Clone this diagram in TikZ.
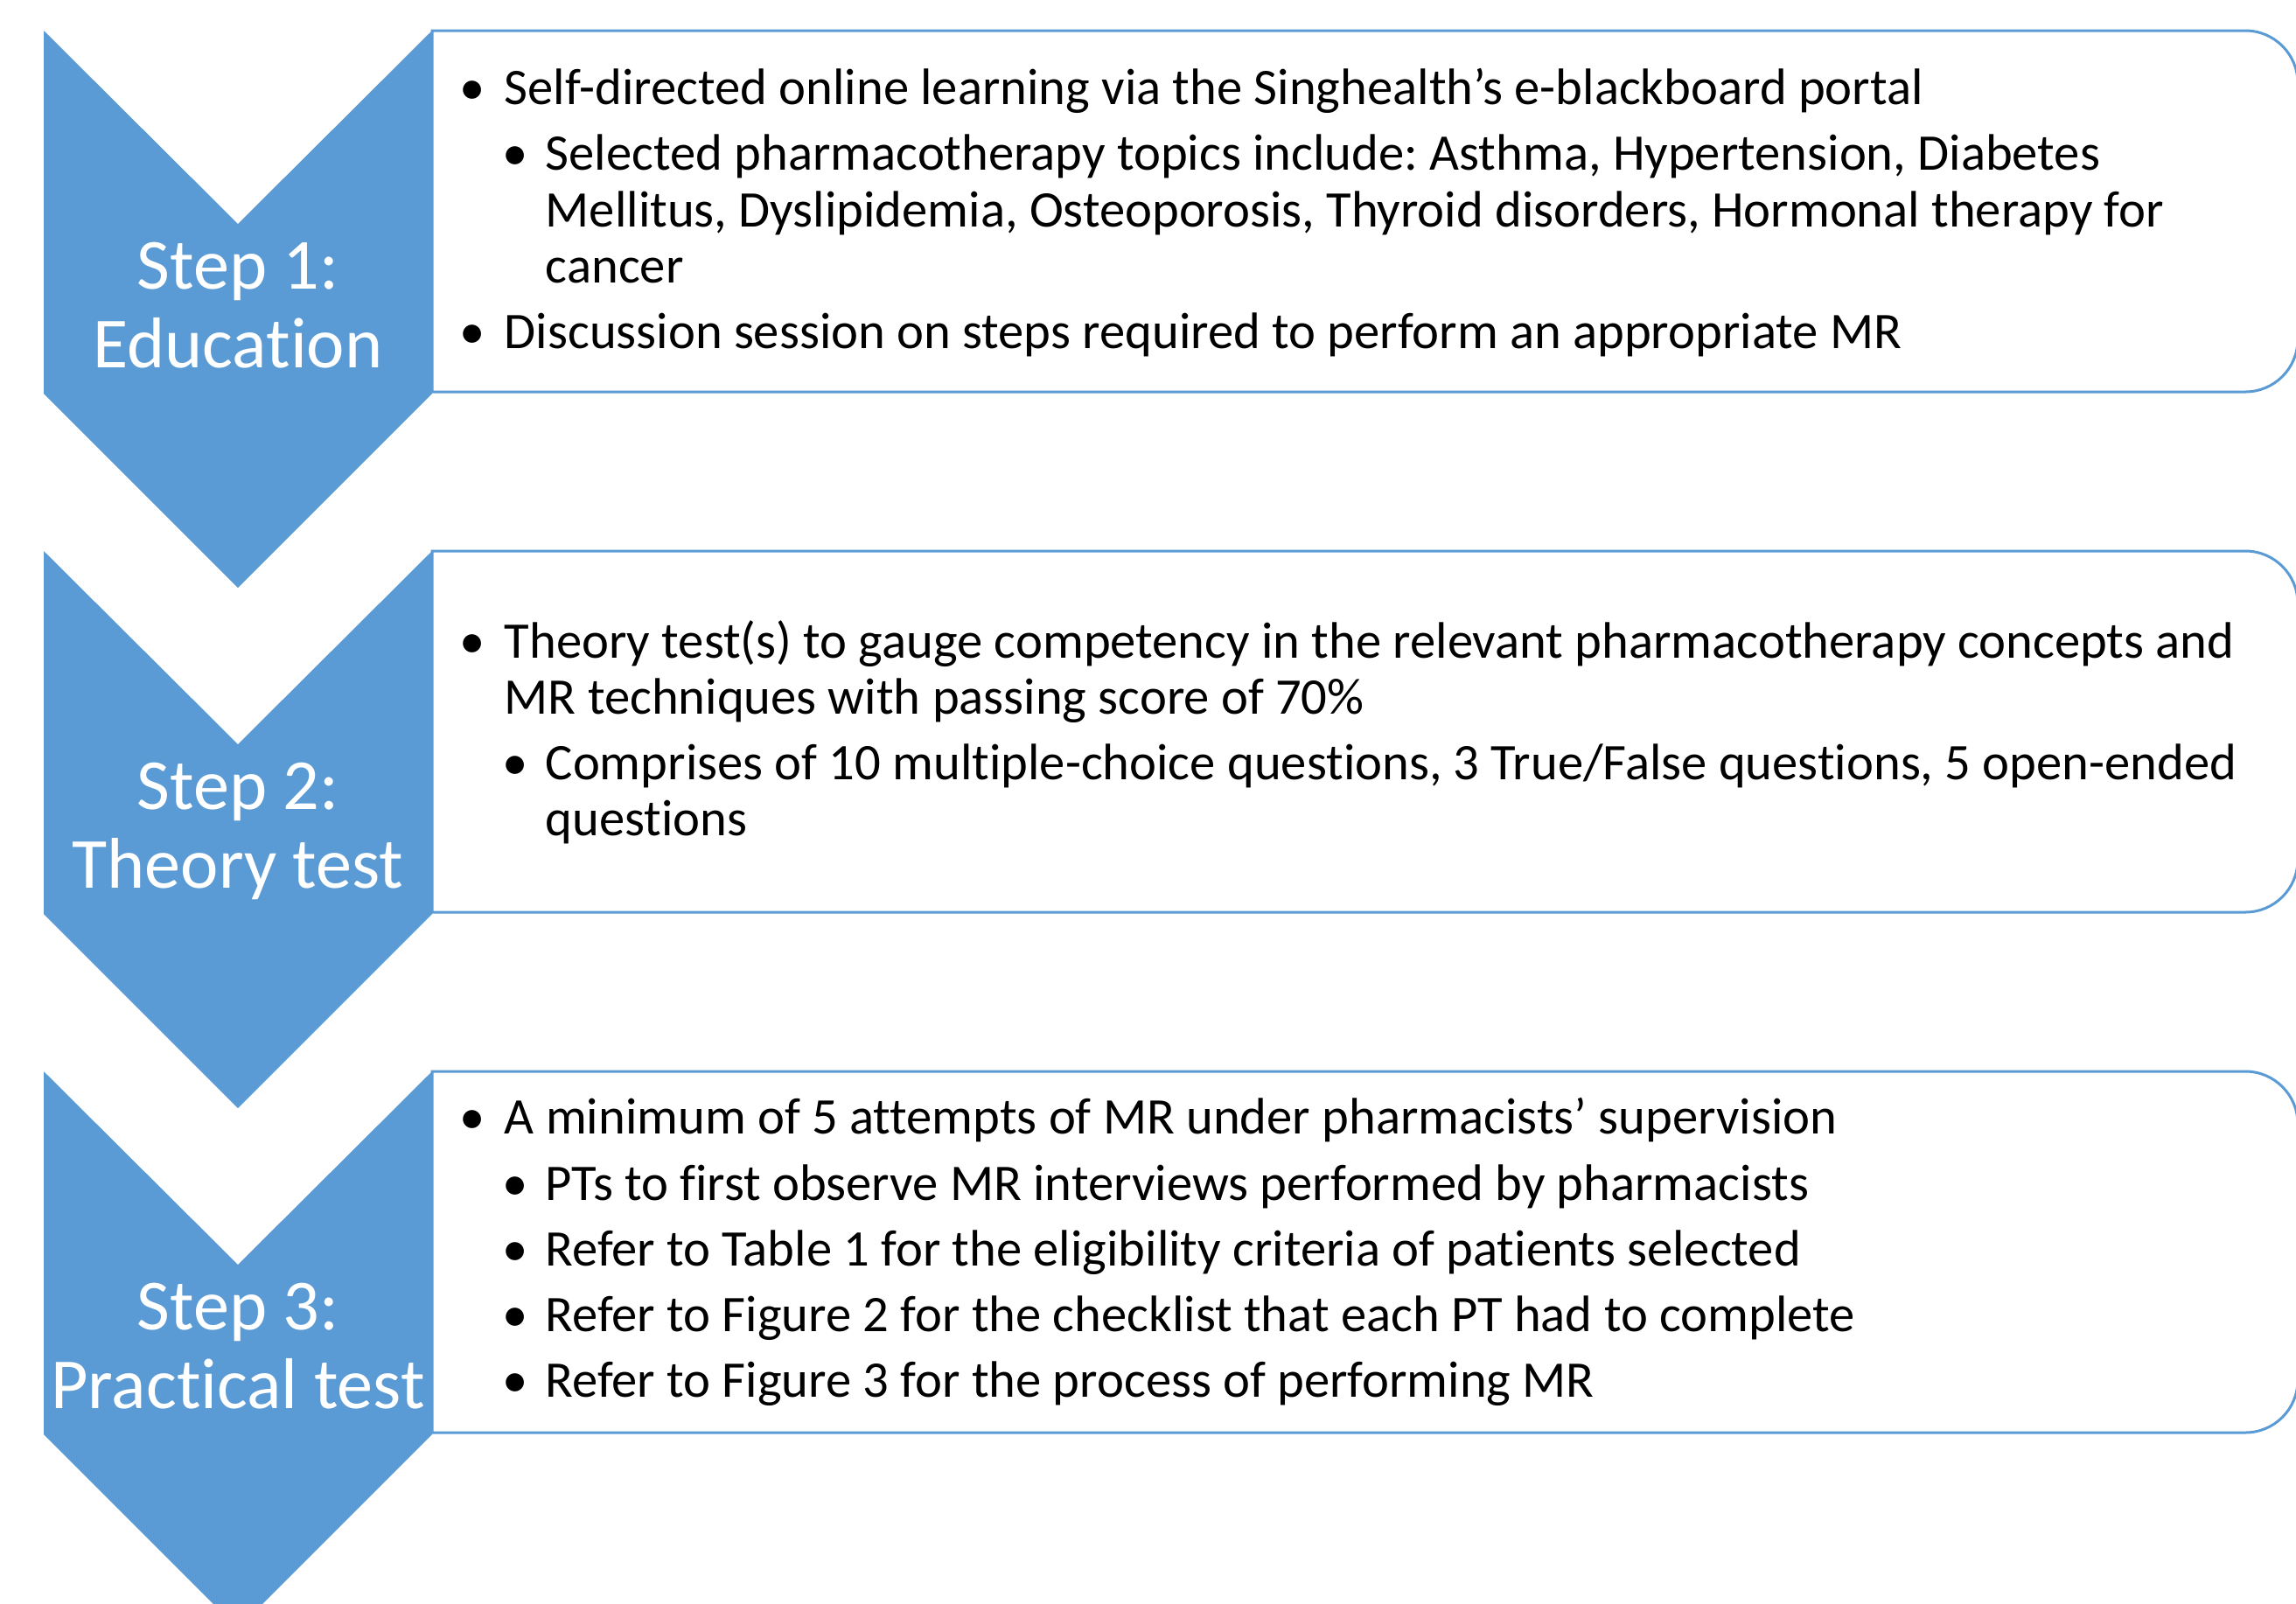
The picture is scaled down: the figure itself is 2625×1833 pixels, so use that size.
\documentclass[tikz,border=0pt]{standalone}
\usepackage{fontspec}
\setmainfont{Carlito}[Ligatures={NoCommon}]
\frenchspacing
\definecolor{acc}{HTML}{5B9BD5}
\begin{document}
\begin{tikzpicture}[x=0.25pt,y=-0.25pt,
  chev/.style={fill=acc,draw=none},
  stepbox/.style={draw=acc,line width=0.75pt,fill=white},
  lbl/.style={text=white,font=\fontsize{20.55}{24}\selectfont,inner sep=0,anchor=base},
  body/.style={font=\fontsize{14.66}{17}\selectfont\frenchspacing,inner sep=0,anchor=base west},
  bul/.style={font=\fontsize{14.66}{17}\selectfont,inner sep=0,anchor=base}]
\useasboundingbox (0,0) rectangle (2625,1833);
% boxes and chevrons
\foreach \T in {35,630,1225}{
  \draw[stepbox] (494,\T) -- (2567,\T) arc[start angle=90,end angle=0,radius=15pt]
     -- (2627,\T+353) arc[start angle=0,end angle=-90,radius=15pt] -- (494,\T+413) -- cycle;
  \fill[chev] (50,\T) -- (272,\T+221) -- (494,\T) -- (494,\T+415) -- (272,\T+637) -- (50,\T+415) -- cycle;
}
% step labels
\node[lbl] (s1a) at (272,330) {Step 1:};
\node[lbl] (s1b) at (272,420) {Education};
\node[lbl] (s2a) at (272,925) {Step 2:};
\node[lbl] (s2b) at (272,1015) {Theory test};
\node[lbl] (s3a) at (272,1520) {Step 3:};
\node[lbl] (s3b) at (272,1610) {Practical test};
% box 1
\node[bul] (b1) at (540,119) {\textbullet};
\node[body] (t1) at (576,119) {Self-directed online learning via the Singhealth’s e-blackboard portal};
\node[bul] (b2) at (589,194) {\textbullet};
\node[body] (t2a) at (623,194) {Selected pharmacotherapy topics include: Asthma, Hypertension, Diabetes};
\node[body] (t2b) at (623,259) {Mellitus, Dyslipidemia, Osteoporosis, Thyroid disorders, Hormonal therapy for};
\node[body] (t2c) at (623,323) {cancer};
\node[bul] (b3) at (540,398) {\textbullet};
\node[body] (t3) at (576,398) {Discussion session on steps required to perform an appropriate MR};
% box 2
\node[bul] (b4) at (540,752) {\textbullet};
\node[body] (t4a) at (576,752) {Theory test(s) to gauge competency in the relevant pharmacotherapy concepts and};
\node[body] (t4b) at (576,816) {MR techniques with passing score of 70\%};
\node[bul] (b5) at (589,891) {\textbullet};
\node[body] (t5a) at (623,891) {Comprises of 10 multiple-choice questions, 3 True/False questions, 5 open-ended};
\node[body] (t5b) at (623,955) {questions};
% box 3
\node[bul] (b6) at (540,1296) {\textbullet};
\node[body] (t6) at (576,1296) {A minimum of 5 attempts of MR under pharmacists’ supervision};
\node[bul] (b7) at (589,1372) {\textbullet};
\node[body] (t7) at (623,1372) {PTs to first observe MR interviews performed by pharmacists};
\node[bul] (b8) at (589,1447) {\textbullet};
\node[body] (t8) at (623,1447) {Refer to Table 1 for the eligibility criteria of patients selected};
\node[bul] (b9) at (589,1522) {\textbullet};
\node[body] (t9) at (623,1522) {Refer to Figure 2 for the checklist that each PT had to complete};
\node[bul] (b10) at (589,1597) {\textbullet};
\node[body] (t10) at (623,1597) {Refer to Figure 3 for the process of performing MR};
\end{tikzpicture}
\end{document}
